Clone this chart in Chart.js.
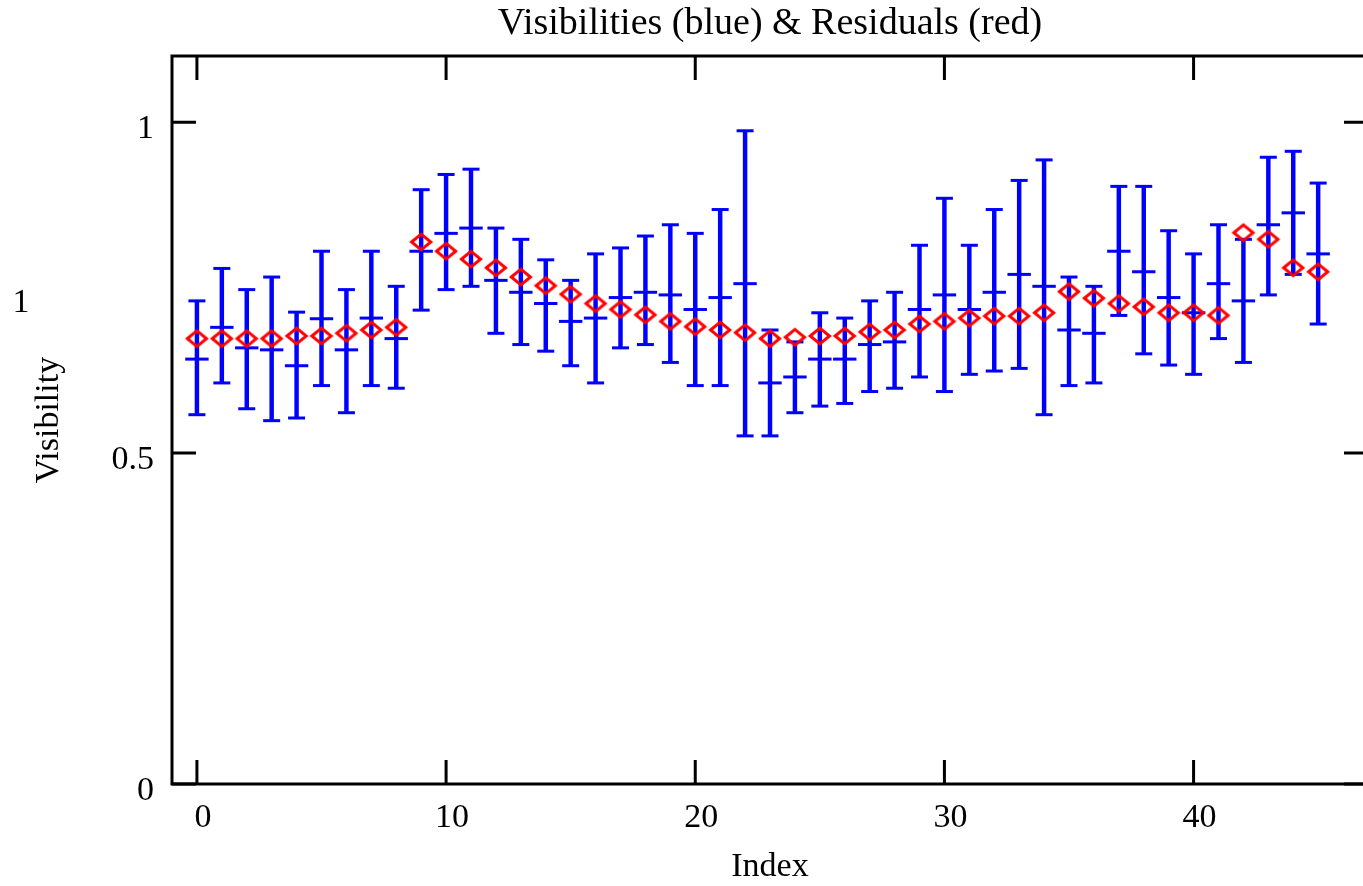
<!DOCTYPE html>
<html>
<head>
<meta charset="utf-8">
<script src="https://cdn.jsdelivr.net/npm/chart.js@4/dist/chart.umd.min.js"></script>
<style>
  html, body { margin: 0; padding: 0; background: #fff; overflow: hidden; width: 1363px; height: 886px; }
  #wrap { position: absolute; left: 0; top: 0; width: 1400px; height: 886px; }
</style>
</head>
<body>
<div id="wrap"><canvas id="c" width="1400" height="886"></canvas></div>
<script>
// ---- data ----
const indices = [0,1,2,3,4,5,6,7,8,9,10,11,12,13,14,15,16,17,18,19,20,21,22,23,24,25,26,27,28,29,30,31,32,33,34,35,36,37,38,39,40,41,42,43,44,45];
const visibility = [0.642,0.690,0.659,0.656,0.632,0.703,0.656,0.704,0.673,0.805,0.832,0.840,0.761,0.743,0.726,0.699,0.704,0.735,0.743,0.739,0.717,0.735,0.756,0.606,0.615,0.642,0.642,0.664,0.668,0.717,0.739,0.717,0.743,0.770,0.752,0.686,0.681,0.805,0.774,0.735,0.712,0.756,0.730,0.845,0.863,0.801];
const visHigh = [0.730,0.779,0.747,0.766,0.713,0.805,0.747,0.805,0.752,0.898,0.921,0.929,0.840,0.823,0.792,0.761,0.801,0.810,0.828,0.845,0.832,0.868,0.987,0.686,0.668,0.712,0.704,0.730,0.743,0.814,0.885,0.814,0.868,0.912,0.943,0.766,0.752,0.903,0.903,0.836,0.801,0.845,0.823,0.947,0.956,0.908];
const visLow = [0.558,0.606,0.567,0.549,0.553,0.602,0.561,0.602,0.598,0.716,0.747,0.752,0.681,0.664,0.654,0.632,0.606,0.659,0.664,0.637,0.602,0.602,0.526,0.526,0.561,0.571,0.575,0.593,0.598,0.615,0.593,0.619,0.624,0.628,0.558,0.602,0.606,0.708,0.650,0.633,0.619,0.673,0.637,0.739,0.770,0.695];
const residual = [0.673,0.673,0.673,0.673,0.677,0.677,0.681,0.686,0.690,0.819,0.805,0.793,0.780,0.766,0.753,0.740,0.726,0.717,0.709,0.699,0.691,0.686,0.682,0.673,0.675,0.677,0.677,0.683,0.686,0.695,0.699,0.704,0.707,0.707,0.712,0.744,0.734,0.726,0.721,0.712,0.712,0.708,0.833,0.823,0.780,0.774];
const xTicks = [0,10,20,30,40];
const yTicks = [0,0.5,1];
const titleText = 'Visibilities (blue) & Residuals (red)';
const xTitle = 'Index';
const yTitle = 'Visibility';
const strayLabel = '1';

// ---- styles ----
const BLUE = '#0000ff', RED = '#ff0000', BLACK = '#000000';
const FONT = '"Liberation Serif", "Times New Roman", Times, serif';

// diamond marker image
const dia = document.createElement('canvas');
dia.width = 28; dia.height = 24;
(function(){
  const g = dia.getContext('2d');
  g.strokeStyle = RED; g.lineWidth = 3; g.lineJoin = 'miter';
  const cx = 14, cy = 12, hw = 9.6, hh = 7.9;
  g.beginPath();
  g.moveTo(cx - hw, cy); g.lineTo(cx, cy - hh); g.lineTo(cx + hw, cy); g.lineTo(cx, cy + hh); g.closePath();
  g.stroke();
})();

const framePlugin = {
  id: 'frame',
  afterDraw(chart) {
    const {ctx, chartArea: a, scales: {x, y}} = chart;
    ctx.save();
    ctx.strokeStyle = BLACK;
    ctx.lineWidth = 3;
    ctx.strokeRect(a.left, a.top, a.right - a.left, a.bottom - a.top);
    const L = 24;
    ctx.beginPath();
    xTicks.forEach(v => {
      const px = x.getPixelForValue(v);
      ctx.moveTo(px, a.bottom); ctx.lineTo(px, a.bottom - L);
      ctx.moveTo(px, a.top); ctx.lineTo(px, a.top + L);
    });
    yTicks.forEach(v => {
      const py = y.getPixelForValue(v);
      ctx.moveTo(a.left, py); ctx.lineTo(a.left + L, py);
      ctx.moveTo(a.right, py); ctx.lineTo(a.right - L, py);
    });
    ctx.stroke();
    // stray label present in the original picture
    ctx.fillStyle = BLACK;
    ctx.font = '34px ' + FONT;
    ctx.textAlign = 'center';
    ctx.textBaseline = 'middle';
    ctx.fillText(strayLabel, 21, 303);
    ctx.restore();
  }
};

new Chart(document.getElementById('c'), {
  type: 'scatter',
  data: {
    datasets: [
      {
        label: 'Residuals',
        data: indices.map((i, k) => ({x: i, y: residual[k]})),
        pointStyle: dia,
        pointRadius: 10,
        showLine: false,
        order: 0
      },
      {
        label: 'Visibilities',
        data: indices.map((i, k) => ({x: i, y: visibility[k]})),
        pointStyle: 'line',
        pointRadius: 11.7,
        borderColor: BLUE,
        backgroundColor: BLUE,
        borderWidth: 3,
        showLine: false,
        order: 1
      },
      {
        label: 'Caps',
        data: indices.flatMap((i, k) => [{x: i, y: visHigh[k]}, {x: i, y: visLow[k]}]),
        pointStyle: 'line',
        pointRadius: 8.5,
        borderColor: BLUE,
        backgroundColor: BLUE,
        borderWidth: 3,
        showLine: false,
        order: 2
      },
      {
        type: 'bar',
        label: 'Errors',
        data: indices.map((i, k) => ({x: i, y: [visLow[k], visHigh[k]]})),
        backgroundColor: BLUE,
        borderWidth: 0,
        barThickness: 3.8,
        order: 3
      }
    ]
  },
  options: {
    responsive: false,
    animation: false,
    devicePixelRatio: 1,
    layout: { padding: { left: 0, right: 32, top: 0, bottom: 0 } },
    plugins: {
      legend: { display: false },
      tooltip: { enabled: false },
      title: {
        display: true,
        text: titleText,
        fullSize: false,
        color: BLACK,
        font: { family: FONT, size: 38, weight: 'normal', lineHeight: 1 },
        padding: { top: 5, bottom: 13 }
      }
    },
    scales: {
      x: {
        type: 'linear',
        min: -1, max: 47,
        offset: false,
        grid: { display: false, drawTicks: false },
        border: { display: false },
        afterBuildTicks: s => { s.ticks = xTicks.map(v => ({value: v})); },
        afterFit: s => { s.height = 102; },
        ticks: {
          color: BLACK,
          font: { family: FONT, size: 34, lineHeight: 1.2 },
          padding: 14,
          labelOffset: 6,
          maxRotation: 0,
          autoSkip: false,
          callback: v => String(v)
        },
        title: {
          display: true, text: xTitle, color: BLACK,
          font: { family: FONT, size: 34, lineHeight: 1 },
          padding: { top: 0, bottom: 1.5 }
        }
      },
      y: {
        type: 'linear',
        min: 0, max: 1.1,
        grid: { display: false, drawTicks: false },
        border: { display: false },
        afterBuildTicks: s => { s.ticks = yTicks.map(v => ({value: v})); },
        afterFit: s => { s.width = 172; },
        ticks: {
          color: BLACK,
          font: { family: FONT, size: 34, lineHeight: 1.2 },
          padding: 18,
          labelOffset: 7,
          autoSkip: false,
          callback: v => String(v)
        },
        title: {
          display: true, text: yTitle, color: BLACK,
          font: { family: FONT, size: 34, lineHeight: 1 },
          padding: { top: 32.5, bottom: 0 }
        }
      }
    }
  },
  plugins: [framePlugin]
});
</script>
</body>
</html>
